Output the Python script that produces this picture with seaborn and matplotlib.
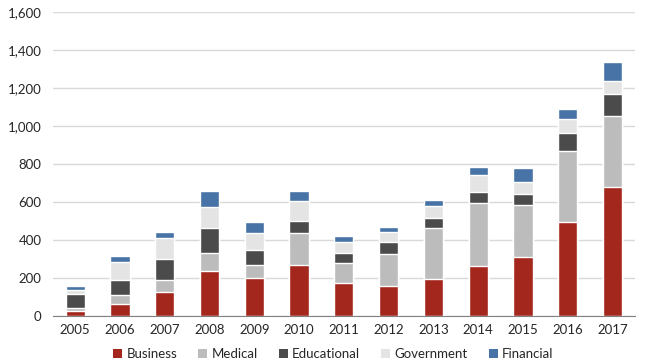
import matplotlib
matplotlib.use("Agg")
import matplotlib.pyplot as plt
from matplotlib.patches import Patch
from matplotlib.ticker import FuncFormatter, FixedLocator
import seaborn as sns
import pandas as pd
import numpy as np

years = ["2005", "2006", "2007", "2008", "2009", "2010", "2011",
         "2012", "2013", "2014", "2015", "2016", "2017"]
business = [23, 63, 125, 234, 199, 270, 174, 159, 194, 261, 310, 493, 678]
medical = [17, 46, 65, 99, 71, 167, 103, 167, 269, 335, 275, 374, 376]
educational = [73, 78, 111, 130, 77, 65, 56, 63, 53, 56, 56, 99, 114]
government = [21, 98, 108, 111, 90, 102, 55, 55, 62, 92, 66, 74, 71]
financial = [23, 32, 35, 82, 58, 55, 33, 25, 35, 38, 72, 51, 100]

series = ["Business", "Medical", "Educational", "Government", "Financial"]
colors = ["#A3271D", "#BCBCBC", "#4B4B4B", "#E4E4E4", "#4873A6"]

df = pd.DataFrame({"year": years, "Business": business, "Medical": medical,
                   "Educational": educational, "Government": government,
                   "Financial": financial})
cum = df[series].cumsum(axis=1)

sns.set_style("white")
plt.rcParams["font.family"] = ["Lato", "DejaVu Sans"]

fig, ax = plt.subplots(figsize=(6.6, 3.63), dpi=100)
fig.subplots_adjust(left=0.08, right=0.962, top=0.966, bottom=0.13)

# draw cumulative heights from the top layer down so lower layers cover them
for name, col in reversed(list(zip(series, colors))):
    sns.barplot(x=df["year"], y=cum[name], color=col, width=0.43,
                saturation=1, ax=ax, zorder=3)

ax.set_ylim(0, 1600)
ax.set_xlim(-0.5, len(years) - 0.5)
ax.set_yticks(range(0, 1601, 200))
ax.yaxis.set_major_formatter(FuncFormatter(lambda v, p: f"{int(v):,}"))
ax.grid(axis="y", color="#D9D9D9", linewidth=1, zorder=0)
ax.set_xlabel("")
ax.set_ylabel("")
for s in ["top", "right", "left"]:
    ax.spines[s].set_visible(False)
ax.spines["bottom"].set_color("#808080")
ax.spines["bottom"].set_zorder(4)

ax.tick_params(axis="x", length=0, labelsize=9.5, colors="#262626", pad=6)
ax.tick_params(axis="y", length=0, labelsize=9.5, colors="#262626", pad=8)
ax.xaxis.set_minor_locator(FixedLocator(np.arange(-0.5, len(years), 1.0)))
ax.tick_params(axis="x", which="minor", length=4, color="#808080", width=1)

handles = [Patch(facecolor=c, edgecolor="none") for c in colors]
fig.legend(handles, series, loc="lower center", ncol=5, frameon=False,
           bbox_to_anchor=(0.505, -0.025), fontsize=9.5, handlelength=0.7,
           handleheight=0.7, handletextpad=0.3, columnspacing=1.6)

fig.savefig("out.png", dpi=100)
